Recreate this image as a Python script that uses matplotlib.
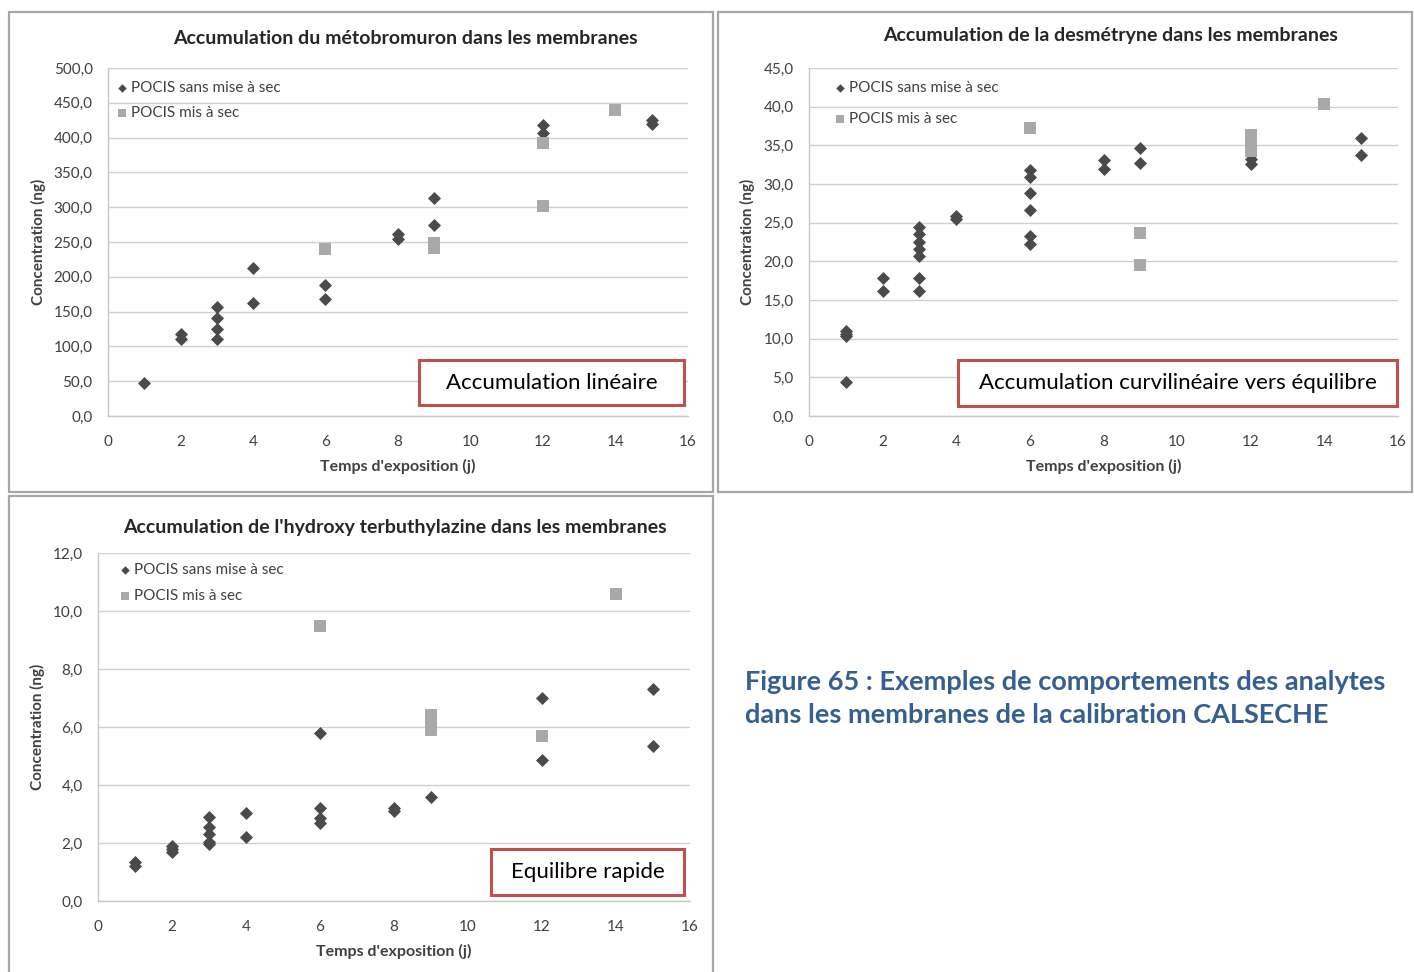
import matplotlib
matplotlib.use("Agg")
import matplotlib.pyplot as plt
from matplotlib.patches import Rectangle
from matplotlib.ticker import FuncFormatter

plt.rcParams['font.family'] = ['Lato', 'DejaVu Sans']

# ---------------- data ----------------
x_ticks = [0, 2, 4, 6, 8, 10, 12, 14, 16]
legend_labels = ["POCIS sans mise à sec", "POCIS mis à sec"]

titles = ["Accumulation du métobromuron dans les membranes",
          "Accumulation de la desmétryne dans les membranes",
          "Accumulation de l'hydroxy terbuthylazine dans les membranes"]
notes = ["Accumulation linéaire",
         "Accumulation curvilinéaire vers équilibre",
         "Equilibre rapide"]
y_label = "Concentration (ng)"
x_label = "Temps d'exposition (j)"
caption = "Figure 65 : Exemples de comportements des analytes\ndans les membranes de la calibration CALSECHE"

# Chart 1 : métobromuron
metob_wet_x = [1, 2, 2, 3, 3, 3, 3, 4, 4, 6, 6, 8, 8, 9, 9, 12, 12, 15, 15]
metob_wet_y = [48, 118, 111, 157, 141, 125, 110, 212, 163, 188, 168, 262, 255, 313, 275, 418, 407, 426, 420]
metob_dry_x = [6, 9, 9, 12, 12, 14]
metob_dry_y = [240, 248, 241, 392, 302, 439]
metob_yticks = [0, 50, 100, 150, 200, 250, 300, 350, 400, 450, 500]

# Chart 2 : desmétryne
desm_wet_x = [1, 1, 1, 1, 2, 2, 3, 3, 3, 3, 3, 3, 3, 4, 4, 6, 6, 6, 6, 6, 6, 8, 8, 9, 9, 12, 12, 15, 15]
desm_wet_y = [11.0, 10.6, 10.3, 4.4, 17.9, 16.2, 24.4, 23.5, 22.5, 21.6, 20.7, 17.8, 16.2, 25.8, 25.5,
              31.8, 30.9, 28.8, 26.6, 23.3, 22.3, 33.1, 31.9, 34.7, 32.7, 33.2, 32.6, 36.0, 33.7]
desm_dry_x = [6, 9, 9, 12, 12, 12, 14]
desm_dry_y = [37.2, 23.7, 19.5, 36.3, 35.3, 34.3, 40.3]
desm_yticks = [0, 5, 10, 15, 20, 25, 30, 35, 40, 45]

# Chart 3 : hydroxy terbuthylazine
hydr_wet_x = [1, 1, 2, 2, 2, 3, 3, 3, 3, 3, 4, 4, 6, 6, 6, 6, 8, 8, 9, 12, 12, 15, 15]
hydr_wet_y = [1.35, 1.2, 1.9, 1.8, 1.7, 2.9, 2.55, 2.3, 2.05, 1.95, 3.05, 2.2, 5.8, 3.2, 2.85, 2.7,
              3.2, 3.1, 3.6, 7.0, 4.85, 7.3, 5.35]
hydr_dry_x = [6, 9, 9, 9, 12, 14]
hydr_dry_y = [9.5, 6.4, 6.15, 5.9, 5.7, 10.6]
hydr_yticks = [0, 2, 4, 6, 8, 10, 12]

# ---------------- layout ----------------
W, H = 1414, 972
fig = plt.figure(figsize=(W / 100, H / 100), dpi=100)


def fx(px):
    return px / W


def fy(py):
    return 1 - py / H


def add_rect_px(x0, y0, x1, y1, **kw):
    r = Rectangle((fx(x0), fy(y1)), fx(x1) - fx(x0), fy(y0) - fy(y1),
                  transform=fig.transFigure, **kw)
    fig.add_artist(r)


WET_C = '#4a4a4a'
DRY_C = '#a9a9a9'
TXT_C = '#404040'
GRID_C = '#d0d0d0'

# panel borders
add_rect_px(9, 12, 713, 492, fill=False, ec='#a6a6a6', lw=1.6)
add_rect_px(718, 12, 1412, 492, fill=False, ec='#a6a6a6', lw=1.6)
add_rect_px(9, 496, 713, 980, fill=False, ec='#a6a6a6', lw=1.6)

panels = [
    dict(ax=(108, 68, 688, 416), wx=metob_wet_x, wy=metob_wet_y, dx=metob_dry_x, dy=metob_dry_y,
         yt=metob_yticks, title=titles[0], tpos=(405, 38), ylab_x=38, xlab_y=466,
         leg=(118, 81, 26), note=notes[0], box=(419, 360, 684, 405)),
    dict(ax=(809, 68, 1398, 416), wx=desm_wet_x, wy=desm_wet_y, dx=desm_dry_x, dy=desm_dry_y,
         yt=desm_yticks, title=titles[1], tpos=(1111, 36), ylab_x=747, xlab_y=466,
         leg=(836, 81, 32), note=notes[1], box=(958, 360, 1397, 406)),
    dict(ax=(98, 553, 690, 901), wx=hydr_wet_x, wy=hydr_wet_y, dx=hydr_dry_x, dy=hydr_dry_y,
         yt=hydr_yticks, title=titles[2], tpos=(395, 527), ylab_x=37, xlab_y=951,
         leg=(121, 563, 27), note=notes[2], box=(491, 849, 684, 895)),
]

for p in panels:
    x0, y0, x1, y1 = p['ax']
    ax = fig.add_axes([fx(x0), fy(y1), fx(x1) - fx(x0), fy(y0) - fy(y1)])
    ax.set_xlim(0, 16)
    ax.set_ylim(p['yt'][0], p['yt'][-1])
    ax.set_xticks(x_ticks)
    ax.set_yticks(p['yt'])
    ax.yaxis.set_major_formatter(FuncFormatter(lambda v, pos: f"{v:.1f}".replace('.', ',')))
    ax.grid(axis='y', color=GRID_C, lw=1.0)
    ax.set_axisbelow(True)
    for s in ['top', 'right']:
        ax.spines[s].set_visible(False)
    for s in ['left', 'bottom']:
        ax.spines[s].set_color('#c8c8c8')
        ax.spines[s].set_linewidth(1.0)
    ax.tick_params(axis='both', length=0, labelsize=11, colors=TXT_C)
    ax.tick_params(axis='y', pad=11)
    ax.tick_params(axis='x', pad=14)

    ax.scatter(p['wx'], p['wy'], marker='D', s=44, color=WET_C, lw=0, label=legend_labels[0], zorder=3)
    ax.scatter(p['dx'], p['dy'], marker='s', s=64, color=DRY_C, lw=0, label=legend_labels[1], zorder=3)

    lx, ly, lsp = p['leg']
    fs_leg = 11
    fpx = fs_leg * 100 / 72
    leg = ax.legend(loc='upper left', bbox_to_anchor=((lx - x0) / (x1 - x0), 1 - (ly - y0) / (y1 - y0)),
                    frameon=False, fontsize=fs_leg, handlelength=0.5, handletextpad=0.35,
                    labelspacing=(lsp - fpx) / fpx, borderaxespad=0, borderpad=0, markerscale=0.65)
    for t in leg.get_texts():
        t.set_color(TXT_C)

    fig.text(fx(p['tpos'][0]), fy(p['tpos'][1]), p['title'], ha='center', va='center',
             fontsize=14, fontweight='bold', color='#262626')
    fig.text(fx(p['ylab_x']), fy((y0 + y1) / 2), y_label, rotation=90, ha='center', va='center',
             fontsize=11, fontweight='bold', color=TXT_C)
    fig.text(fx((x0 + x1) / 2), fy(p['xlab_y']), x_label, ha='center', va='center',
             fontsize=11.5, fontweight='bold', color=TXT_C)

    bx0, by0, bx1, by1 = p['box']
    add_rect_px(bx0, by0, bx1, by1, fc='white', ec='#c0504d', lw=2.2, zorder=5)
    fig.text(fx((bx0 + bx1) / 2), fy((by0 + by1) / 2), p['note'], ha='center', va='center',
             fontsize=16, color='black', zorder=6)

fig.text(fx(745), fy(698), caption, ha='left', va='center', fontsize=19.5, fontweight='bold',
         color='#365f91', linespacing=1.45)

fig.savefig('out.png', dpi=100, facecolor='white')
